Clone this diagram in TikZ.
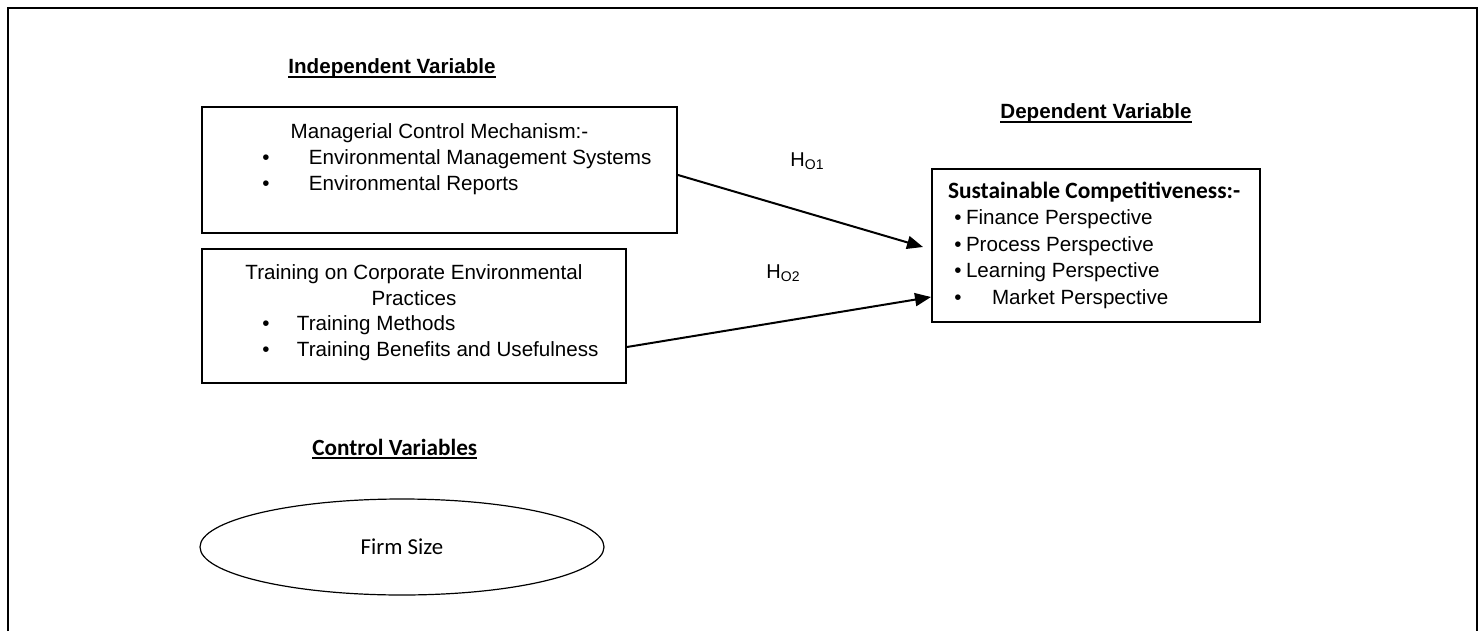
\documentclass[tikz,border=0pt]{standalone}
\usepackage{fontspec}
\setmainfont{Liberation Sans}
\newfontfamily\calfont{Carlito}
\usetikzlibrary{shapes.geometric,arrows.meta,calc}

% underlined heading text
\newcommand{\hdgline}[1]{\setbox0\hbox{#1}\rlap{\rule[-2pt]{\wd0}{0.8pt}}\box0}
% one bulleted line: bullet position, text position, text
\newcommand{\itemline}[3]{\par\noindent\rlap{\hspace*{#1}\makebox[0pt]{\textbullet}}\hspace*{#2}#3}

\begin{document}
\begin{tikzpicture}[x=0.5pt, y=-0.5pt,
    box/.style={draw, line width=1pt, rectangle, inner sep=0pt},
    heading/.style={font=\fontsize{10.3}{12}\selectfont\bfseries, inner sep=0pt, anchor=base west},
    hlabel/.style={font=\fontsize{10}{12}\selectfont, inner sep=0pt},
    link/.style={-{Triangle[length=8pt, width=6.5pt]}, line width=1pt}]

    \useasboundingbox (0,0) rectangle (1481,631);
    \draw[line width=1pt] (8,631) -- (8,8) -- (1477,8) -- (1477,631);

    \node[heading] (indep) at (288,74) {\hdgline{Independent Variable}};
    \node[heading] (dep) at (1000,119) {\hdgline{Dependent Variable}};
    \node[heading, font=\calfont\fontsize{11.6}{13}\selectfont\bfseries] (ctrl) at (312,455) {\hdgline{Control Variables}};

    \node[box, font=\fontsize{10.3}{13}\selectfont] (mcm) at (439.5,170)
        {\begin{minipage}[c][63pt][t]{237.5pt}
        \centering\rule{0pt}{15.75pt}Managerial Control Mechanism:-\par
        \raggedright
        \itemline{32pt}{53.5pt}{Environmental Management Systems}
        \itemline{32pt}{53.5pt}{Environmental Reports}
        \end{minipage}};

    \node[box, font=\fontsize{10.3}{12.8}\selectfont] (tcep) at (414,316)
        {\begin{minipage}[c][67pt][t]{212pt}
        \centering\rule{0pt}{15.25pt}Training on Corporate Environmental\\Practices\par
        \raggedright
        \itemline{32pt}{47.5pt}{Training Methods}
        \itemline{32pt}{47.5pt}{Training Benefits and Usefulness}
        \end{minipage}};

    \node[box, font=\fontsize{10.3}{13.25}\selectfont] (sc) at (1096,245.5)
        {\begin{minipage}[c][76.5pt][t]{164pt}
        \rule{0pt}{14.5pt}\hspace*{8pt}{\calfont\bfseries\fontsize{11.7}{13}\selectfont Sustainable Competitiveness:-}\par
        \itemline{13pt}{17pt}{Finance Perspective}
        \itemline{13pt}{17pt}{Process Perspective}
        \itemline{13pt}{17pt}{Learning Perspective}
        \itemline{13pt}{30pt}{Market Perspective}
        \end{minipage}};

    \node[draw, ellipse, line width=0.6pt, inner sep=0pt, minimum width=202pt, minimum height=48pt,
          font=\calfont\fontsize{11.4}{13}\selectfont] (size) at (402,547) {Firm Size};

    \node[hlabel] (h1) at (807,161) {H\raisebox{-1.5pt}{\fontsize{7}{8}\selectfont O1}};
    \node[hlabel] (h2) at (783,273) {H\raisebox{-1.5pt}{\fontsize{7}{8}\selectfont O2}};

    \draw[link] ($(mcm.east)+(0,5)$) -- ($(sc.west)+(-8,1.5)$);
    \draw[link] ($(tcep.east)+(0,31)$) -- ($(sc.west)+(0,51.5)$);
\end{tikzpicture}
\end{document}
